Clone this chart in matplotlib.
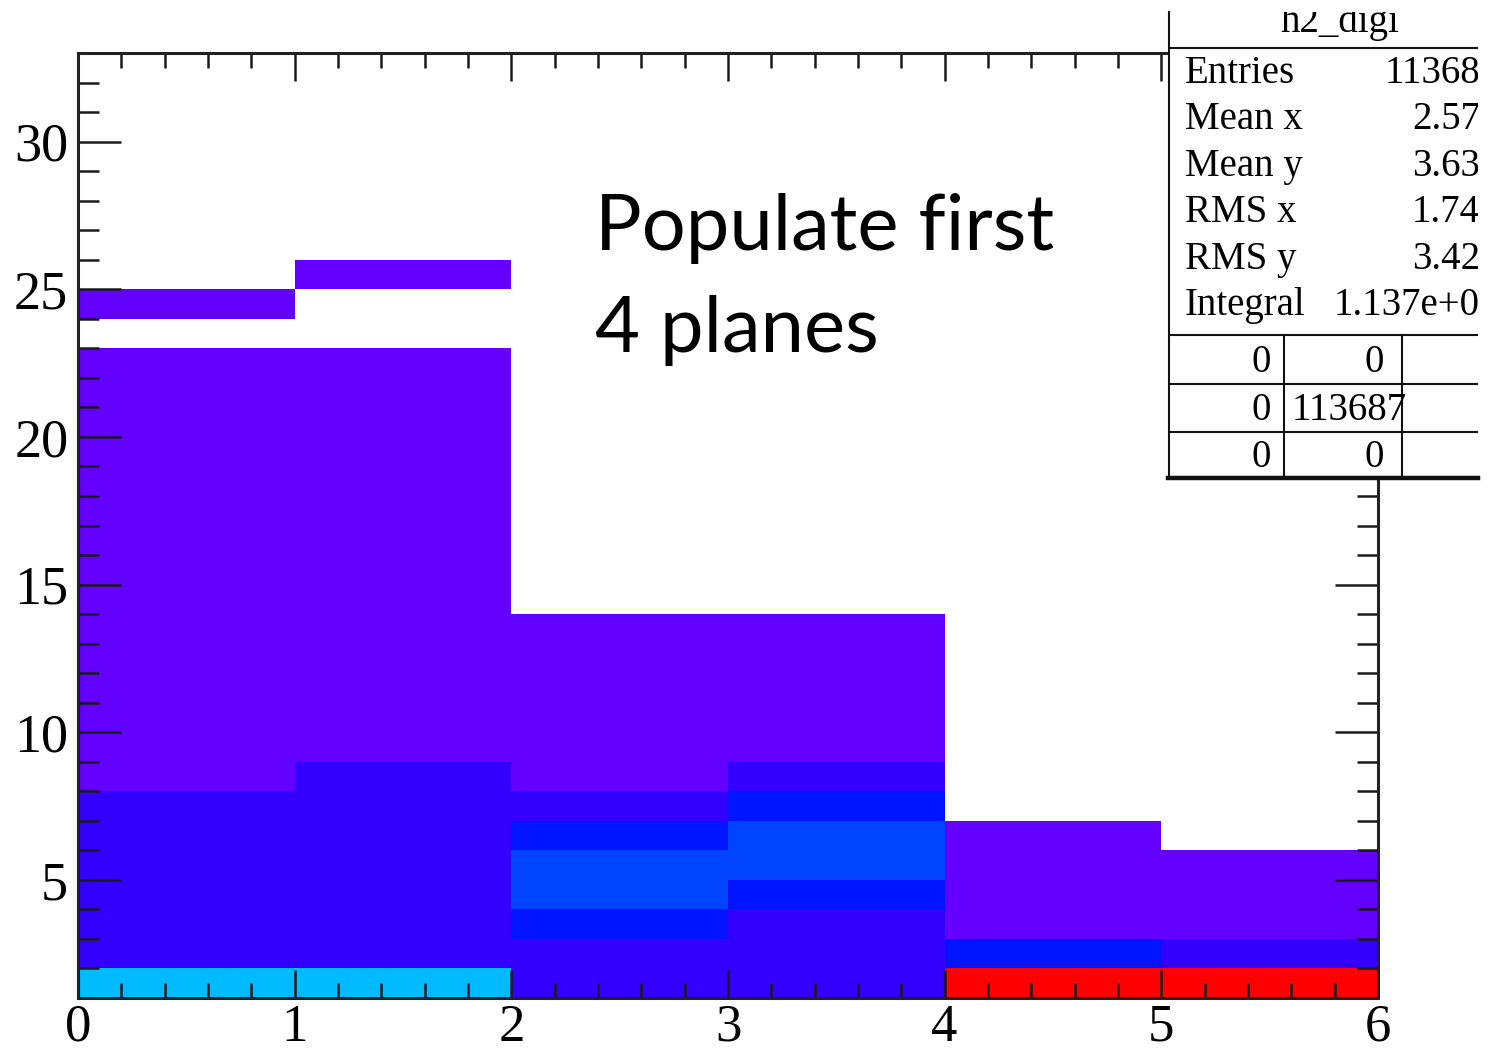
import colorsys
import numpy as np
import matplotlib
matplotlib.use("Agg")
import matplotlib.pyplot as plt
from matplotlib.colors import ListedColormap, BoundaryNorm
from matplotlib.ticker import MultipleLocator

# h2_digi bin contents, one list per x bin, from the y=1 bin upward
col_0 = [5620, 1990, 1640, 1420, 1310, 1180, 1050,
         610, 430, 290, 200, 150, 120, 90, 60, 40, 25, 16, 10, 6, 4, 2, 0, 1]
col_1 = [5480, 1995, 1760, 1590, 1440, 1290, 1160, 1030,
         540, 330, 190, 130, 95, 70, 50, 34, 22, 14, 9, 5, 3, 2, 0, 0, 1]
col_2 = [1740, 1380, 2210, 3160, 3266, 2580, 1460, 430, 150, 60, 22, 8, 3]
col_3 = [1560, 1290, 1830, 2370, 3400, 3380, 2740, 1490, 470, 160, 55, 18, 4]
col_4 = [20000, 2760, 380, 110, 40, 9]
col_5 = [19900, 1350, 310, 70, 18]
columns = [col_0, col_1, col_2, col_3, col_4, col_5]

x_edges = np.arange(0, 7)
y_edges = np.arange(1, 34)

stat_names = ["Entries", "Mean x", "Mean y", "RMS x", "RMS y", "Integral"]
stat_values = ["11368", "2.57", "3.63", "1.74", "3.42", "1.137e+0"]

plt.rcParams['font.family'] = ['Liberation Serif', 'DejaVu Serif']

W, H = 1487, 1055
fig = plt.figure(figsize=(W / 100, H / 100), dpi=100)
ax = fig.add_axes([78 / W, 57 / H, 1300 / W, 945 / H])

Z = np.zeros((len(y_edges) - 1, len(x_edges) - 1))
for i, col in enumerate(columns):
    Z[:len(col), i] = col
Zm = np.ma.masked_equal(Z, 0)

# ROOT pretty palette (50 hues violet -> red) picked on 20 contour levels
n_pal, n_cont = 50, 20
palette = [colorsys.hls_to_rgb((280 - (i + 1) * 280 / n_pal) / 360, 0.5, 1.0)
           for i in range(n_pal)]
level_colors = [palette[int((k + 0.99) * n_pal / n_cont)] for k in range(n_cont)]
cmap = ListedColormap(level_colors)
norm = BoundaryNorm(np.linspace(0, Z.max(), n_cont + 1), cmap.N, clip=True)

ax.pcolormesh(x_edges, y_edges, Zm, cmap=cmap, norm=norm,
              edgecolors='none', antialiased=False)

ax.set_xlim(0, 6)
ax.set_ylim(1, 33)
ax.xaxis.set_major_locator(MultipleLocator(1))
ax.xaxis.set_minor_locator(MultipleLocator(0.2))
ax.yaxis.set_major_locator(MultipleLocator(5))
ax.yaxis.set_minor_locator(MultipleLocator(1))
ax.tick_params(which='both', direction='in', top=True, right=True,
               color='#1a1a1a', width=1.8)
ax.tick_params(axis='x', which='major', length=20, labelsize=38, pad=4)
ax.tick_params(axis='x', which='minor', length=11)
ax.tick_params(axis='y', which='major', length=31, labelsize=39, pad=7)
ax.tick_params(axis='y', which='minor', length=15)
for sp in ax.spines.values():
    sp.set_linewidth(2.2)
    sp.set_color('#222222')

# slide annotation
fig.text(595 / W, 1 - 250 / H, "Populate first", family=['Lato', 'DejaVu Sans'],
         fontsize=56, va='baseline', ha='left')
fig.text(595 / W, 1 - 352 / H, "4 planes", family=['Lato', 'DejaVu Sans'],
         fontsize=56, va='baseline', ha='left')

# stats box, cut off at the top and right
bx0, bx1, by0, by1 = 1168, 1478, 12, 479
sax = fig.add_axes([bx0 / W, 1 - by1 / H, (bx1 - bx0) / W, (by1 - by0) / H])
sax.set_xlim(bx0, bx1)
sax.set_ylim(by1, by0)
sax.set_xticks([])
sax.set_yticks([])
for sp in sax.spines.values():
    sp.set_visible(False)

lc = '#111111'
sax.plot([bx0 + 1, bx0 + 1], [by0, by1], color=lc, lw=1.5, clip_on=False)
sax.plot([bx0, bx1], [by1 - 1, by1 - 1], color=lc, lw=3.2, clip_on=False)
sax.plot([bx0, bx1], [48, 48], color=lc, lw=1.5)
for yy in [335, 384, 432]:
    sax.plot([bx0, bx1], [yy, yy], color=lc, lw=1.5)
for xx in [1284, 1402]:
    sax.plot([xx, xx], [335, by1], color=lc, lw=1.5)

fs = 28
sax.text(1340, 32, "h2_digi", fontsize=fs, ha='center', va='baseline', clip_on=True)
for i, (name, val) in enumerate(zip(stat_names, stat_values)):
    yb = 83 + 46.4 * i
    sax.text(1185, yb, name, fontsize=fs, ha='left', va='baseline', clip_on=True)
    sax.text(1480, yb, val, fontsize=fs, ha='right', va='baseline', clip_on=True)

total = int(Z.sum())
table = [["0", "0"], ["0", str(total)], ["0", "0"]]
for r, row in enumerate(table):
    yb = 372 + 47.5 * r
    sax.text(1271, yb, row[0], fontsize=fs, ha='right', va='baseline', clip_on=True)
    xr = 1407 if len(row[1]) > 1 else 1384
    sax.text(xr, yb, row[1], fontsize=fs, ha='right', va='baseline', clip_on=True)

fig.savefig("out.png", dpi=100, facecolor='white')
